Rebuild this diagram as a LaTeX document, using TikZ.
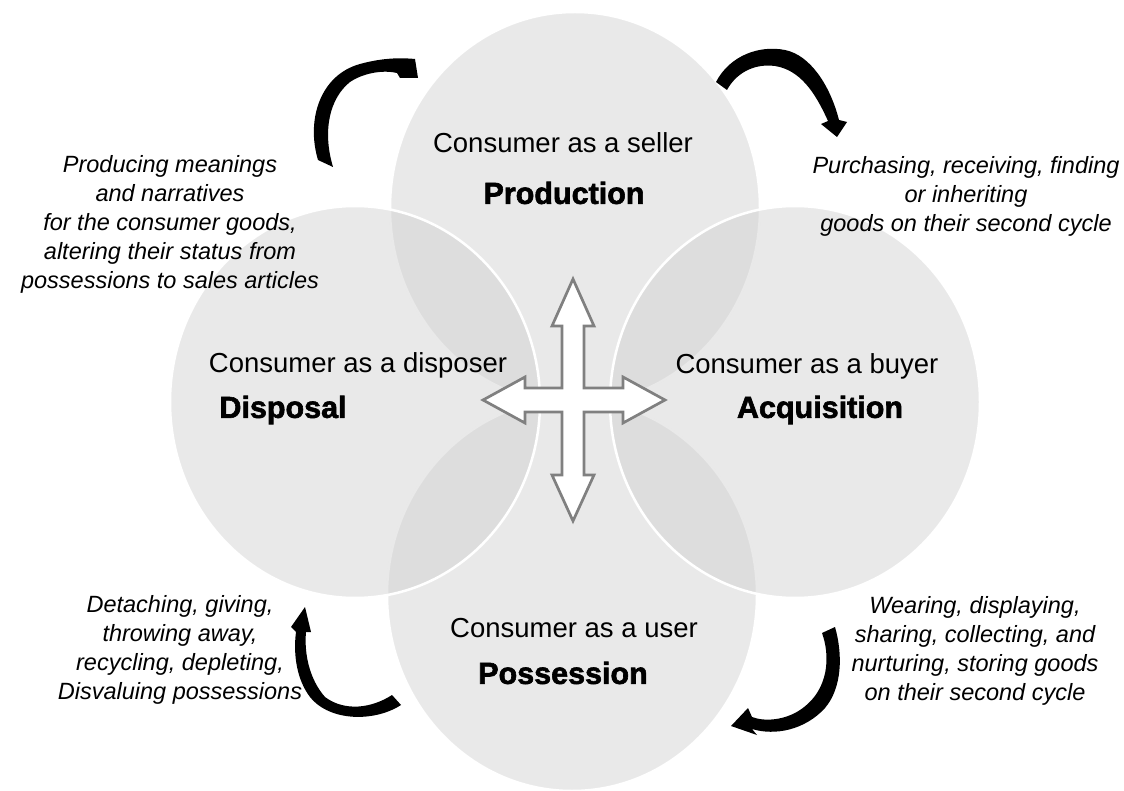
\documentclass[tikz,border=0pt]{standalone}
\usepackage{fontspec}
\setmainfont{Liberation Sans}
\newfontfamily\heavyfont{Liberation Sans}[FakeBold=2]
\definecolor{circfill}{RGB}{207,207,207}
\definecolor{crossgray}{RGB}{128,128,128}
\tikzset{
  circ/.style={fill=circfill, fill opacity=0.455, draw=white, draw opacity=1, line width=2.5pt},
  role/.style={inner sep=0pt, font=\fontsize{27.5}{32}\selectfont},
  stage/.style={inner sep=0pt, font=\heavyfont\bfseries\fontsize{30.5}{34}\selectfont},
  desc/.style={inner sep=0pt, align=center, font=\itshape\fontsize{23.5}{29}\selectfont},
  curvedarrow/.style={fill=black, draw=none},
  crossarrow/.style={fill=white, draw=crossgray, line width=2.7pt, line join=miter}
}
\begin{document}
\begin{tikzpicture}[x=1pt, y=-1pt]
\path[use as bounding box] (0,0) rectangle (1124,791);

% circles (order: production, possession, acquisition, disposal)
\path[circ] (575,208) ellipse [x radius=185, y radius=196];
\path[circ] (572,595) ellipse [x radius=185, y radius=196];
\path[circ] (795,402) ellipse [x radius=185, y radius=196];
\path[circ] (355,402) ellipse [x radius=185, y radius=196];

% center four-way arrow
\coordinate (ctr) at (573,400);
\draw[crossarrow, shift={(ctr)}]
  (0,-121) -- (21,-74) -- (11,-74) -- (11,-12) -- (50,-12) -- (50,-23) -- (92,0)
  -- (50,23) -- (50,12) -- (11,12) -- (11,75) -- (21,75) -- (0,121) -- (-21,75)
  -- (-11,75) -- (-11,12) -- (-48,12) -- (-48,23) -- (-90,0) -- (-48,-23)
  -- (-48,-12) -- (-11,-12) -- (-11,-74) -- (-21,-74) -- cycle;

% curved arrows
% top-left
\fill[curvedarrow] (318,160) .. controls (306,120) and (320,75) .. (360,64)
  .. controls (385,57) and (405,58) .. (415,59) -- (418,78) -- (400,78) -- (397,73)
  .. controls (385,70) and (365,72) .. (350,82)
  .. controls (330,98) and (322,130) .. (333,167) -- cycle;
% top-right
\fill[curvedarrow] (716,82) .. controls (730,55) and (760,45) .. (785,50)
  .. controls (810,55) and (830,85) .. (839,120) -- (847,122) -- (837,137) -- (821,124) -- (828,121)
  .. controls (815,92) and (800,70) .. (775,66)
  .. controls (752,63) and (735,75) .. (727,90) -- cycle;
% bottom-left
\fill[curvedarrow] (401,705) .. controls (375,722) and (330,722) .. (310,697)
  .. controls (297,680) and (293,655) .. (296,632) -- (291,627) -- (305,607) -- (311,632) -- (306,632)
  .. controls (304,655) and (310,680) .. (325,697)
  .. controls (345,712) and (372,708) .. (392,695) -- cycle;
% bottom-right
\fill[curvedarrow] (822,633) .. controls (830,655) and (830,690) .. (800,710)
  .. controls (785,720) and (765,722) .. (752,717) -- (748,708) -- (731,726) -- (757,735) -- (752,729)
  .. controls (775,736) and (805,730) .. (825,708)
  .. controls (842,688) and (843,655) .. (835,627) -- cycle;

% circle labels
\node[role]  (sellerlab)   at (563,143) {Consumer as a seller};
\node[stage] (production)  at (564,193) {Production};
\node[role]  (disposerlab) at (358,365) {Consumer as a disposer};
\node[stage] (disposal)    at (283,410) {Disposal};
\node[role]  (buyerlab)    at (807,366) {Consumer as a buyer};
\node[stage] (acquisition) at (820,410) {Acquisition};
\node[role]  (userlab)     at (574,628) {Consumer as a user};
\node[stage] (possession)  at (563,673) {Possession};

% descriptions
\node[desc] (descprod) at (170,224) {Producing meanings\\and narratives\\for the consumer goods,\\altering their status from\\possessions to sales articles};
\node[desc] (descacq) at (966,196) {Purchasing, receiving, finding\\or inheriting\\goods on their second cycle};
\node[desc] (descdisp) at (180,650) {Detaching, giving,\\throwing away,\\recycling, depleting,\\Disvaluing possessions};
\node[desc] (descposs) at (975,651) {Wearing, displaying,\\sharing, collecting, and\\nurturing, storing goods\\on their second cycle};
\end{tikzpicture}
\end{document}
